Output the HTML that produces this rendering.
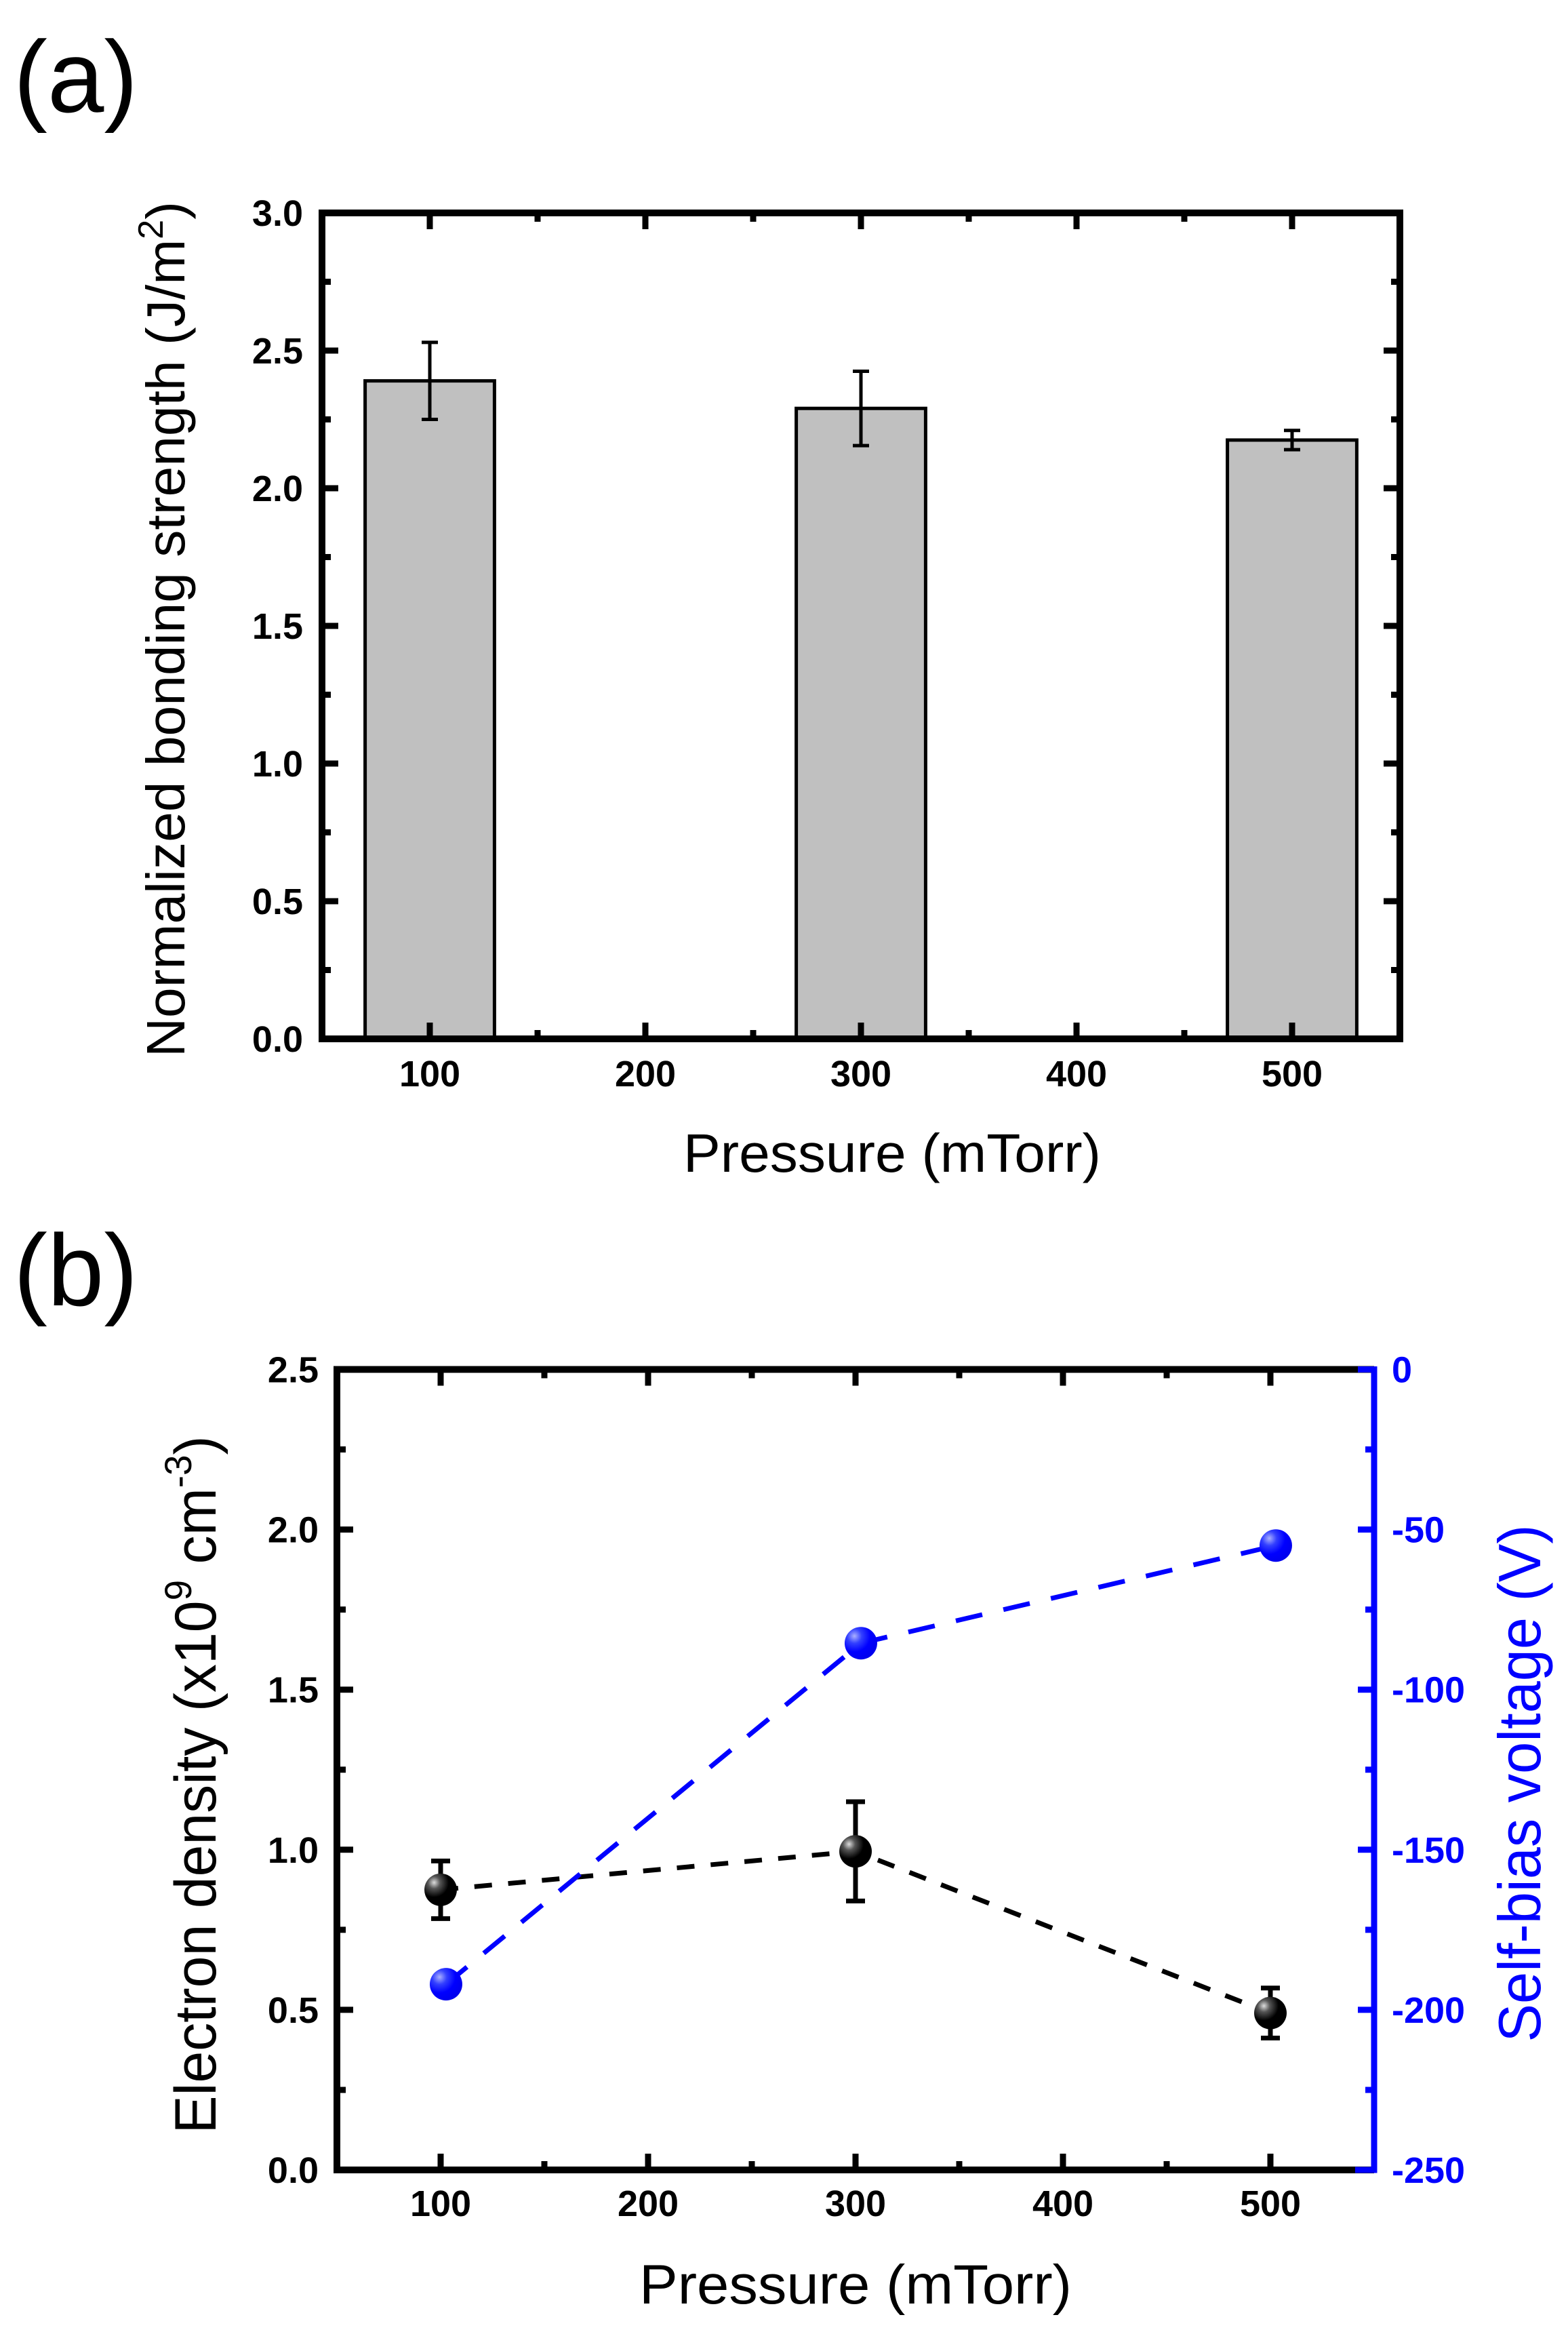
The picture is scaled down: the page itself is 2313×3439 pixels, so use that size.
<!DOCTYPE html>
<html><head><meta charset="utf-8"><style>
html,body{margin:0;padding:0;background:#fff}
svg{display:block}
text{font-family:"Liberation Sans",Arial,sans-serif}
</style></head><body>
<svg id="fig" width="2313" height="3439" viewBox="0 0 2313 3439" xmlns="http://www.w3.org/2000/svg">
<defs>
<radialGradient id="gBlack" cx="0.3" cy="0.28" r="0.75">
<stop offset="0" stop-color="#ddd"/><stop offset="0.25" stop-color="#555"/><stop offset="0.6" stop-color="#000"/><stop offset="1" stop-color="#000"/>
</radialGradient>
<radialGradient id="gBlue" cx="0.3" cy="0.28" r="0.75">
<stop offset="0" stop-color="#aab0ff"/><stop offset="0.3" stop-color="#3340ff"/><stop offset="0.65" stop-color="#0000ff"/><stop offset="1" stop-color="#0000ee"/>
</radialGradient>
</defs>
<text x="20" y="165" font-size="150">(a)</text>
<text x="20" y="1925" font-size="150">(b)</text>
<g id="pa"></g>
<g id="pb"></g>
</svg>
<script>
// Panel (a) data
const aCategories = [100, 300, 500];
const aValues = [2.39, 2.29, 2.175];
const aErrors = [0.14, 0.135, 0.035];
const aYTicks = ["0.0","0.5","1.0","1.5","2.0","2.5","3.0"];
const aXTicks = ["100","200","300","400","500"];
// Panel (b) data
const bPressure = [100, 300, 500];
const bDensity = [0.875, 0.995, 0.49];
const bDensityErr = [0.09, 0.155, 0.078];
const bBiasPressure = [102.6, 302.6, 502.6];
const bBias = [-192, -85.5, -55];
const bYTicks = ["0.0","0.5","1.0","1.5","2.0","2.5"];
const bY2Ticks = ["0","-50","-100","-150","-200","-250"];
const bXTicks = ["100","200","300","400","500"];

const NS = "http://www.w3.org/2000/svg";
function mk(parent, tag, attrs, txt){
  const e = document.createElementNS(NS, tag);
  for (const k in attrs) e.setAttribute(k, attrs[k]);
  if (txt !== undefined) e.textContent = txt;
  parent.appendChild(e);
  return e;
}

// ---------- Panel a ----------
(function(){
  const g = document.getElementById('pa');
  const L=475,R=2065,T=314,B=1532;
  const xs = v => L + (v-50)/500*(R-L);
  const ys = v => B - v/3*(B-T);
  aCategories.forEach((c,i)=>{
    const w = xs(c+30)-xs(c-30);
    const r = mk(g,'rect',{x:xs(c-30),y:ys(aValues[i]),width:w,height:B-ys(aValues[i]),fill:'#c0c0c0',stroke:'#000','stroke-width':5});
    
    
    const e = mk(g,'path',{d:`M${xs(c)} ${ys(aValues[i]+aErrors[i])}V${ys(aValues[i]-aErrors[i])}M${xs(c)-12} ${ys(aValues[i]+aErrors[i])}h24M${xs(c)-12} ${ys(aValues[i]-aErrors[i])}h24`,stroke:'#000','stroke-width':5,fill:'none'});
    
    
  });
  const f = mk(g,'rect',{x:L,y:T,width:R-L,height:B-T,fill:'none',stroke:'#000','stroke-width':10});
  
  
  let d='';
  for(let i=0;i<=12;i++){
    const v=i*0.25, y=ys(v), len=(i%2==0)?24:13;
    d+=`M${L} ${y}h${len}M${R} ${y}h${-len}`;
  }
  for(let i=0;i<=10;i++){
    const v=50+i*50, x=xs(v), len=(i%2==1)?24:13;
    if(i==0||i==10) continue;
    d+=`M${x} ${B}v${-len}M${x} ${T}v${len}`;
  }
  const tk = mk(g,'path',{d:d,stroke:'#000','stroke-width':9,fill:'none'});
  
  
  aYTicks.forEach((t,i)=>{
    const e = mk(g,'text',{x:447,y:ys(parseFloat(t))+19,'font-size':54,'font-weight':'bold','text-anchor':'end'},t);
    
    
  });
  aXTicks.forEach(t=>{
    const e = mk(g,'text',{x:xs(parseFloat(t)),y:1602,'font-size':54,'font-weight':'bold','text-anchor':'middle'},t);
    
    
  });
  const xt = mk(g,'text',{x:1316,y:1728,'font-size':80,'text-anchor':'middle',textLength:616,lengthAdjust:'spacingAndGlyphs'},'Pressure (mTorr)');
  
  
  const yt = mk(g,'text',{transform:'translate(272,928) rotate(-90)','font-size':80,'text-anchor':'middle',textLength:1262,lengthAdjust:'spacingAndGlyphs'});
  
  
  mk(yt,'tspan',{},'Normalized bonding strength (J/m');
  mk(yt,'tspan',{'font-size':52,dy:-32},'2');
  mk(yt,'tspan',{dy:32},')');
})();

// ---------- Panel b ----------
(function(){
  const g = document.getElementById('pb');
  const L=497,R=2027,T=2019.5,B=3200;
  const xs = v => L + (v-50)/500*(R-L);
  const ys = v => B - v/2.5*(B-T);
  const ys2 = v => B - (v+250)/250*(B-T);
  const fr = mk(g,'path',{d:`M${R} ${T}H${L}V${B}H${R}`,fill:'none',stroke:'#000','stroke-width':10});
  
  
  let d='', d2='';
  for(let i=0;i<=10;i++){
    const y=ys(i*0.25), len=(i%2==0)?24:13;
    d+=`M${L} ${y}h${len}`;
    d2+=`M${R} ${y}h${-len}`;
  }
  for(let i=1;i<10;i++){
    const x=xs(50+i*50), len=(i%2==1)?24:13;
    d+=`M${x} ${B}v${-len}M${x} ${T}v${len}`;
  }
  const tk = mk(g,'path',{d:d,stroke:'#000','stroke-width':9,fill:'none'});
  
  
  const ra = mk(g,'path',{d:`M${R-10} ${T}H${R}V${B}H${R-28}`+d2,stroke:'#0000ff','stroke-width':9,fill:'none'});
  
  
  bYTicks.forEach(t=>{
    const e = mk(g,'text',{x:470,y:ys(parseFloat(t))+19,'font-size':54,'font-weight':'bold','text-anchor':'end'},t);
    
    
  });
  bY2Ticks.forEach(t=>{
    const e = mk(g,'text',{x:2053,y:ys2(parseFloat(t))+19,'font-size':54,'font-weight':'bold',fill:'#0000ff'},t);
    
    
  });
  bXTicks.forEach(t=>{
    const e = mk(g,'text',{x:xs(parseFloat(t)),y:3268,'font-size':54,'font-weight':'bold','text-anchor':'middle'},t);
    
    
  });
  const pb = bPressure.map((p,i)=>xs(p)+','+ys(bDensity[i])).join(' ');
  const lb = mk(g,'polyline',{points:pb,fill:'none',stroke:'#000','stroke-width':7,'stroke-dasharray':'26 24'});
  
  
  const pv = bBiasPressure.map((p,i)=>xs(p)+','+ys2(bBias[i])).join(' ');
  const lv = mk(g,'polyline',{points:pv,fill:'none',stroke:'#0000ff','stroke-width':7,'stroke-dasharray':'40 32'});
  
  
  bPressure.forEach((p,i)=>{
    const x=xs(p), y1=ys(bDensity[i]+bDensityErr[i]), y0=ys(bDensity[i]-bDensityErr[i]);
    const e = mk(g,'path',{d:`M${x} ${y1}V${y0}M${x-14} ${y1}h28M${x-14} ${y0}h28`,stroke:'#000','stroke-width':7,fill:'none'});
    
    
    const c = mk(g,'circle',{cx:x,cy:ys(bDensity[i]),r:24,fill:'url(#gBlack)'});
    
    
  });
  bBiasPressure.forEach((p,i)=>{
    const c = mk(g,'circle',{cx:xs(p),cy:ys2(bBias[i]),r:24,fill:'url(#gBlue)'});
    
    
  });
  const xt = mk(g,'text',{x:1262,y:3397,'font-size':82,'text-anchor':'middle',textLength:638,lengthAdjust:'spacingAndGlyphs'},'Pressure (mTorr)');
  
  
  const yt = mk(g,'text',{transform:'translate(318,2632) rotate(-90)','font-size':86,'text-anchor':'middle',textLength:1029,lengthAdjust:'spacingAndGlyphs'});
  
  
  mk(yt,'tspan',{},'Electron density (x10');
  mk(yt,'tspan',{'font-size':56,dy:-36},'9');
  mk(yt,'tspan',{dy:36},' cm');
  mk(yt,'tspan',{'font-size':56,dy:-36},'-3');
  mk(yt,'tspan',{dy:36},')');
  const y2 = mk(g,'text',{transform:'translate(2272,2630) rotate(-90)','font-size':88,'text-anchor':'middle',fill:'#0000ff',textLength:763,lengthAdjust:'spacingAndGlyphs'},'Self-bias voltage (V)');
  
  
})();
</script>
</body></html>
